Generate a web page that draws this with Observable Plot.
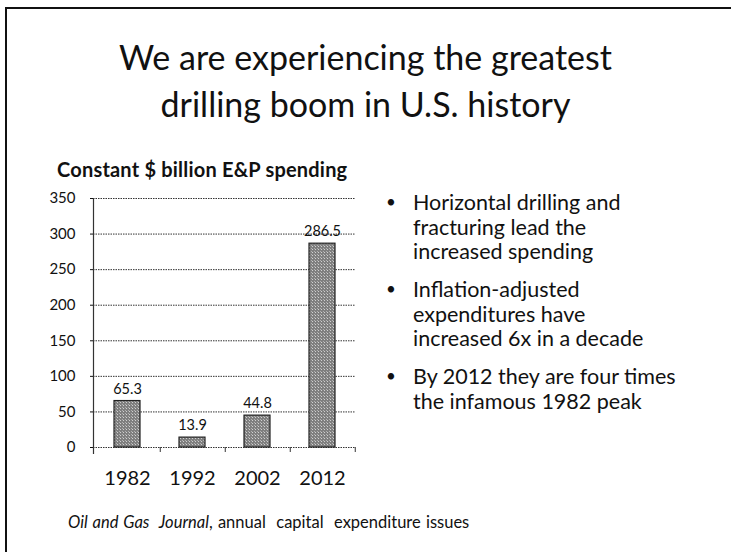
<!DOCTYPE html>
<html>
<head>
<meta charset="utf-8">
<script src="https://cdn.jsdelivr.net/npm/d3@7"></script>
<script src="https://cdn.jsdelivr.net/npm/@observablehq/plot@0.6"></script>
<style>
  html, body { margin: 0; padding: 0; background: #fff; }
  body { width: 731px; height: 552px; position: relative; overflow: hidden; font-family: Lato, "Noto Sans", sans-serif; color: #111; }
  .frame { position: absolute; left: 5px; top: 7px; width: 740px; height: 560px; border-left: 2px solid #111; border-top: 2px solid #111; }
  .title { position: absolute; left: 0; width: 731px; top: 33px; text-align: center; font-size: 34px; line-height: 47px; color: #111; }
  .ctitle { position: absolute; left: 57px; top: 157px; font-size: 20px; font-weight: bold; letter-spacing: 0.2px; }
  .bullets { position: absolute; left: 386px; top: 190px; font-size: 21.5px; line-height: 24.5px; }
  .bullets .item { position: relative; padding-left: 27px; margin-bottom: 13.5px; }
  .bullets .item::before { content: "•"; position: absolute; left: 0; top: 0; font-size: 17px; }
  .caption { position: absolute; left: 68px; top: 512px; font-size: 16.5px; word-spacing: 1px; }
  #chart { position: absolute; left: 0; top: 180px; }
</style>
</head>
<body>
<div class="frame"></div>
<div class="title">We are experiencing the greatest<br>drilling boom in U.S. history</div>
<div class="ctitle">Constant $ billion E&amp;P spending</div>
<div id="chart"></div>
<div class="bullets" id="bullets"></div>
<div class="caption"><i>Oil and Gas&nbsp; Journal</i>, annual&nbsp; capital&nbsp; expenditure issues</div>
<script>
const years = ["1982", "1992", "2002", "2012"];
const spending = [65.3, 13.9, 44.8, 286.5];
const yTicks = [0, 50, 100, 150, 200, 250, 300, 350];
const bulletTexts = [
  ["Horizontal drilling and", "fracturing lead the", "increased spending"],
  ["Inflation-adjusted", "expenditures have", "increased 6x in a decade"],
  ["By 2012 they are four times", "the infamous 1982 peak"]
];

const data = years.map((y, i) => ({year: y, value: spending[i]}));

const W = 370, H = 320, ML = 93, MR = 15, MT = 18, MB = 53;
const step = (W - ML - MR) / years.length;

const plot = Plot.plot({
  width: W, height: H,
  marginLeft: ML, marginRight: MR, marginTop: MT, marginBottom: MB,
  style: {fontFamily: "Lato, 'Noto Sans', sans-serif", color: "#111", background: "transparent"},
  x: {domain: years, paddingInner: 0.6, paddingOuter: 0.3},
  y: {domain: [0, 350]},
  marks: [
    Plot.ruleY(yTicks, {stroke: "#333", strokeWidth: 1, strokeDasharray: "1.5,1"}),
    Plot.frame({anchor: "left", stroke: "#333", strokeWidth: 1.2, insetBottom: -6}),
    Plot.axisY({ticks: yTicks, tickSize: 3, tickPadding: 15, fontSize: 15, label: null}),
    Plot.axisX({tickSize: 0, tickPadding: 23, fontSize: 20, label: null}),
    Plot.axisX({tickSize: 5, tickFormat: () => "", dx: step / 2, label: null, stroke: "#333"}),
    Plot.barY(data, {x: "year", y: "value", fill: "url(#hatch)", stroke: "#222", strokeWidth: 1.2}),
    Plot.text(data, {x: "year", y: "value", text: d => d.value.toFixed(1), dy: -12, fontSize: 14.5, fill: "#111"})
  ]
});

// fine hatch pattern for the bars
const ns = "http://www.w3.org/2000/svg";
const defs = document.createElementNS(ns, "defs");
defs.innerHTML = `<pattern id="hatch" width="3" height="3" patternUnits="userSpaceOnUse">
  <rect width="3" height="3" fill="#7f7f7f"/>
  <rect width="1" height="1" fill="#d0d0d0"/>
  <rect x="2" y="2" width="1" height="1" fill="#b0b0b0"/>
</pattern>`;
plot.insertBefore(defs, plot.firstChild);
document.getElementById("chart").appendChild(plot);

const b = document.getElementById("bullets");
for (const lines of bulletTexts) {
  const div = document.createElement("div");
  div.className = "item";
  div.innerHTML = lines.join("<br>");
  b.appendChild(div);
}
</script>
</body>
</html>
